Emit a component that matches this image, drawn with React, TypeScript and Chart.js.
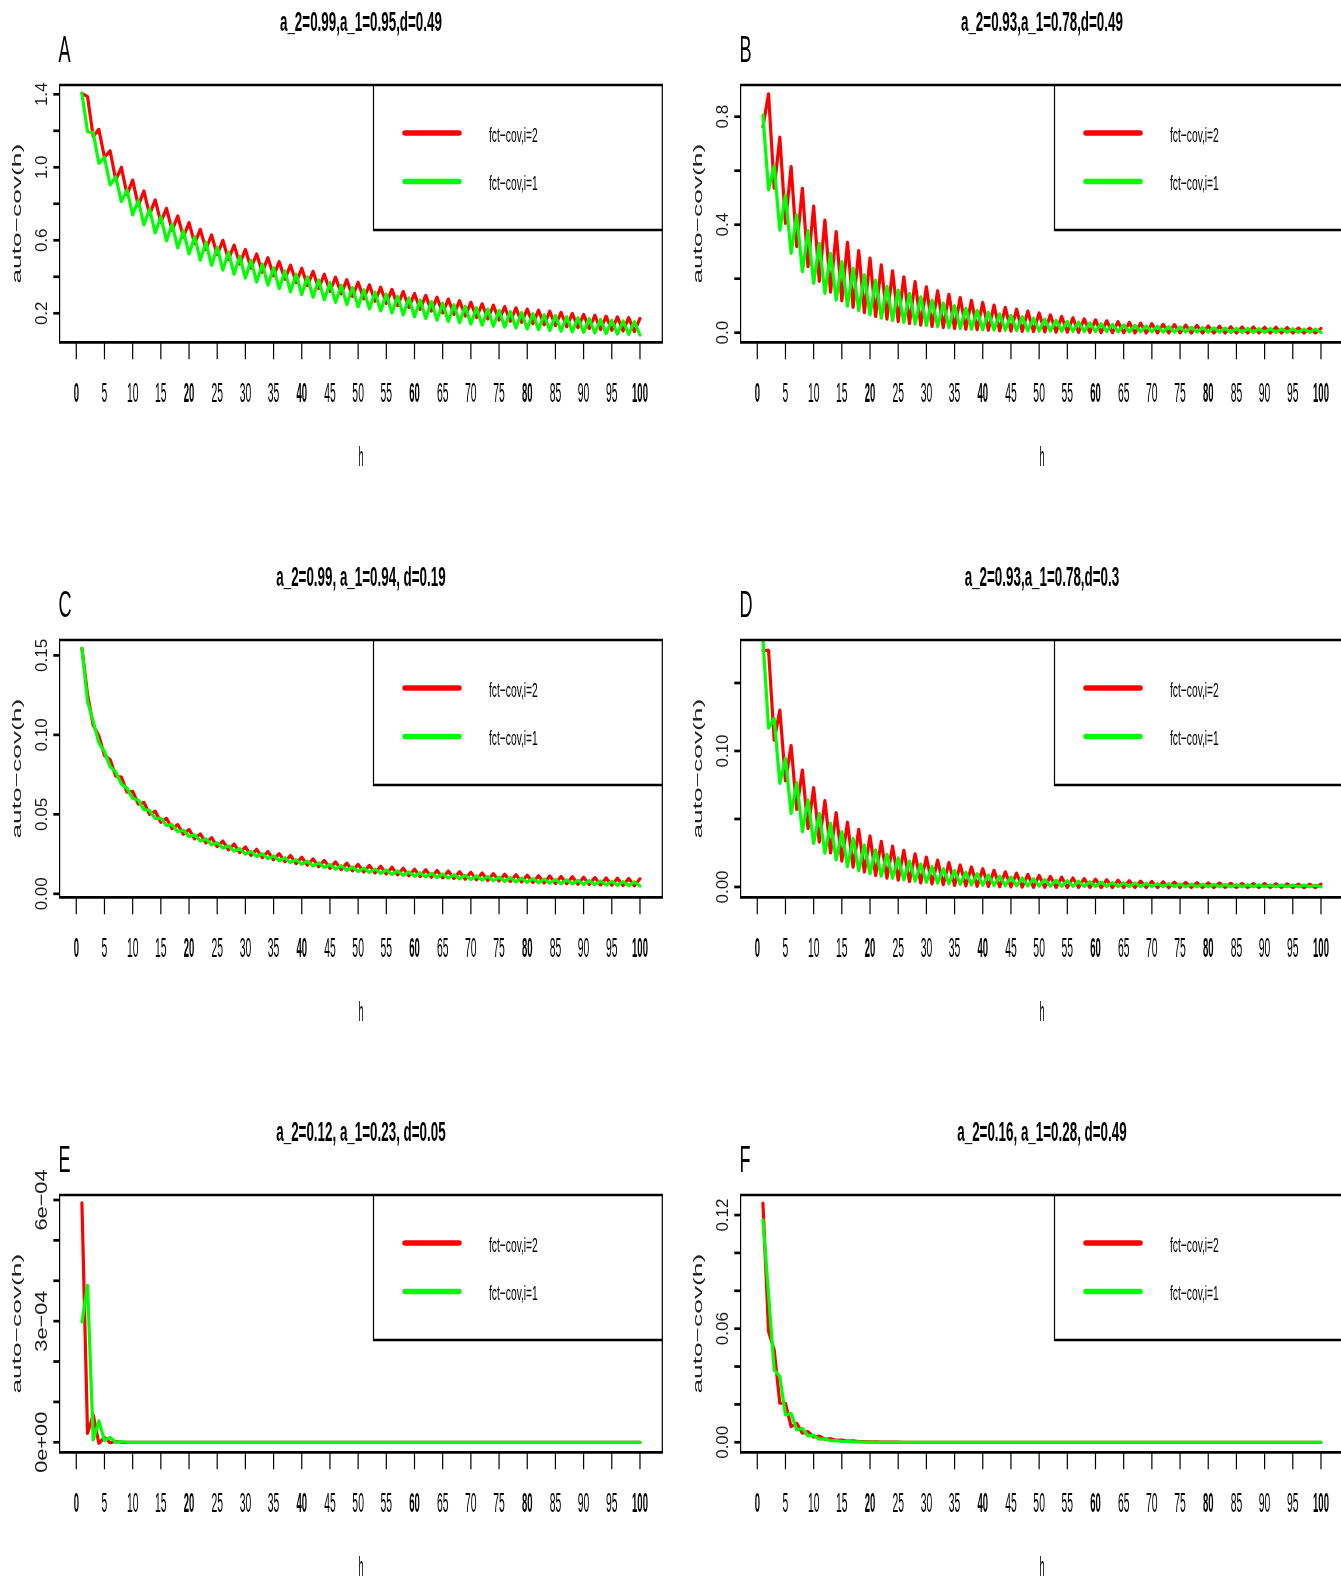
import React, { useEffect, useRef } from "react";
import { Chart, registerables } from "chart.js";

Chart.register(...registerables);

// ---------------- data ----------------
const lags = [
  1, 2, 3, 4, 5, 6, 7, 8, 9, 10, 11, 12, 13, 14, 15, 16, 17, 18, 19, 20,
  21, 22, 23, 24, 25, 26, 27, 28, 29, 30, 31, 32, 33, 34, 35, 36, 37, 38, 39, 40,
  41, 42, 43, 44, 45, 46, 47, 48, 49, 50, 51, 52, 53, 54, 55, 56, 57, 58, 59, 60,
  61, 62, 63, 64, 65, 66, 67, 68, 69, 70, 71, 72, 73, 74, 75, 76, 77, 78, 79, 80,
  81, 82, 83, 84, 85, 86, 87, 88, 89, 90, 91, 92, 93, 94, 95, 96, 97, 98, 99, 100,
];

const xTickValues = [0, 5, 10, 15, 20, 25, 30, 35, 40, 45, 50, 55, 60, 65, 70, 75, 80, 85, 90, 95, 100];
const xTickLabels = ["0", "5", "10", "15", "20", "25", "30", "35", "40", "45", "50", "55", "60", "65", "70", "75", "80", "85", "90", "95", "100"];

const seriesNames = ["fct\u2212cov,i=2", "fct\u2212cov,i=1"];
const panelTitles = [
  "a_2=0.99,a_1=0.95,d=0.49",
  "a_2=0.93,a_1=0.78,d=0.49",
  "a_2=0.99, a_1=0.94, d=0.19",
  "a_2=0.93,a_1=0.78,d=0.3",
  "a_2=0.12, a_1=0.23, d=0.05",
  "a_2=0.16, a_1=0.28, d=0.49",
];
const panelLetters = ["A", "B", "C", "D", "E", "F"];

const redA = [
  1.405, 1.387, 1.168, 1.208, 1.055, 1.091, 0.930, 1.000, 0.850, 0.930,
  0.790, 0.870, 0.741, 0.822, 0.698, 0.775, 0.654, 0.733, 0.617, 0.697,
  0.582, 0.660, 0.550, 0.629, 0.521, 0.600, 0.494, 0.574, 0.470, 0.550,
  0.447, 0.525, 0.425, 0.505, 0.405, 0.483, 0.386, 0.464, 0.368, 0.447,
  0.352, 0.430, 0.336, 0.414, 0.320, 0.398, 0.306, 0.384, 0.292, 0.370,
  0.279, 0.356, 0.266, 0.343, 0.254, 0.331, 0.242, 0.319, 0.232, 0.308,
  0.221, 0.298, 0.212, 0.288, 0.202, 0.278, 0.194, 0.269, 0.185, 0.260,
  0.177, 0.252, 0.169, 0.244, 0.162, 0.237, 0.156, 0.230, 0.150, 0.223,
  0.143, 0.217, 0.137, 0.211, 0.132, 0.205, 0.126, 0.199, 0.121, 0.194,
  0.116, 0.189, 0.111, 0.184, 0.107, 0.180, 0.103, 0.176, 0.099, 0.172,
];
const greenA = [
  1.405, 1.195, 1.190, 1.022, 1.055, 0.903, 0.948, 0.812, 0.876, 0.739,
  0.818, 0.684, 0.771, 0.640, 0.730, 0.597, 0.688, 0.558, 0.653, 0.525,
  0.620, 0.491, 0.590, 0.463, 0.562, 0.437, 0.536, 0.414, 0.513, 0.393,
  0.491, 0.371, 0.470, 0.354, 0.450, 0.335, 0.432, 0.318, 0.414, 0.303,
  0.399, 0.288, 0.383, 0.274, 0.368, 0.260, 0.354, 0.248, 0.341, 0.236,
  0.329, 0.224, 0.316, 0.213, 0.305, 0.202, 0.293, 0.191, 0.284, 0.181,
  0.273, 0.172, 0.264, 0.163, 0.255, 0.155, 0.247, 0.148, 0.238, 0.141,
  0.231, 0.135, 0.223, 0.129, 0.216, 0.124, 0.210, 0.119, 0.204, 0.114,
  0.198, 0.110, 0.192, 0.106, 0.187, 0.102, 0.181, 0.098, 0.176, 0.095,
  0.171, 0.092, 0.166, 0.089, 0.162, 0.086, 0.158, 0.084, 0.154, 0.081,
];

const redB = [
  0.763, 0.885, 0.535, 0.724, 0.405, 0.615, 0.319, 0.535, 0.245, 0.469,
  0.190, 0.417, 0.150, 0.374, 0.118, 0.335, 0.094, 0.304, 0.074, 0.276,
  0.060, 0.251, 0.050, 0.229, 0.041, 0.207, 0.034, 0.189, 0.028, 0.170,
  0.023, 0.155, 0.019, 0.142, 0.016, 0.130, 0.013, 0.120, 0.011, 0.112,
  0.009, 0.102, 0.007, 0.094, 0.006, 0.087, 0.005, 0.080, 0.004, 0.073,
  0.003, 0.066, 0.002, 0.060, 0.002, 0.055, 0.001, 0.051, 0.001, 0.047,
  0.000, 0.044, 0.000, 0.041, 0.000, 0.038, -0.001, 0.035, -0.001, 0.033,
  -0.001, 0.031, -0.001, 0.030, -0.001, 0.028, -0.001, 0.027, -0.001, 0.025,
  -0.001, 0.024, -0.001, 0.022, -0.001, 0.021, -0.001, 0.021, -0.001, 0.020,
  -0.001, 0.020, -0.001, 0.019, -0.001, 0.018, -0.001, 0.017, -0.001, 0.016,
];
const greenB = [
  0.806, 0.529, 0.617, 0.380, 0.510, 0.294, 0.436, 0.226, 0.378, 0.183,
  0.331, 0.146, 0.294, 0.121, 0.263, 0.098, 0.239, 0.082, 0.214, 0.066,
  0.195, 0.054, 0.172, 0.045, 0.158, 0.038, 0.146, 0.032, 0.133, 0.027,
  0.121, 0.022, 0.110, 0.019, 0.100, 0.016, 0.091, 0.013, 0.083, 0.011,
  0.076, 0.010, 0.070, 0.009, 0.064, 0.008, 0.059, 0.007, 0.054, 0.006,
  0.050, 0.006, 0.046, 0.005, 0.042, 0.005, 0.039, 0.004, 0.036, 0.004,
  0.033, 0.004, 0.031, 0.003, 0.029, 0.003, 0.027, 0.003, 0.025, 0.003,
  0.024, 0.002, 0.022, 0.002, 0.021, 0.002, 0.020, 0.002, 0.019, 0.002,
  0.018, 0.002, 0.017, 0.001, 0.016, 0.001, 0.016, 0.001, 0.015, 0.001,
  0.015, 0.001, 0.014, 0.001, 0.014, 0.001, 0.013, 0.001, 0.013, 0.001,
];

const redC = [
  0.1545, 0.1255, 0.1060, 0.0995, 0.0870, 0.0845, 0.0740, 0.0735, 0.0640, 0.0645,
  0.0565, 0.0575, 0.0500, 0.0520, 0.0450, 0.0475, 0.0410, 0.0435, 0.0375, 0.0405,
  0.0346, 0.0377, 0.0320, 0.0353, 0.0297, 0.0332, 0.0277, 0.0313, 0.0259, 0.0295,
  0.0242, 0.0280, 0.0228, 0.0266, 0.0214, 0.0253, 0.0202, 0.0241, 0.0190, 0.0230,
  0.0180, 0.0220, 0.0170, 0.0210, 0.0160, 0.0201, 0.0152, 0.0193, 0.0144, 0.0185,
  0.0137, 0.0179, 0.0131, 0.0173, 0.0125, 0.0167, 0.0119, 0.0161, 0.0113, 0.0155,
  0.0108, 0.0151, 0.0104, 0.0147, 0.0100, 0.0143, 0.0096, 0.0139, 0.0092, 0.0135,
  0.0088, 0.0131, 0.0084, 0.0127, 0.0080, 0.0123, 0.0077, 0.0120, 0.0074, 0.0117,
  0.0071, 0.0114, 0.0068, 0.0112, 0.0065, 0.0109, 0.0063, 0.0107, 0.0060, 0.0104,
  0.0058, 0.0102, 0.0056, 0.0100, 0.0054, 0.0098, 0.0052, 0.0096, 0.0050, 0.0094,
];
const greenC = [
  0.1545, 0.1210, 0.1085, 0.0950, 0.0895, 0.0800, 0.0765, 0.0690, 0.0665, 0.0600,
  0.0590, 0.0530, 0.0525, 0.0475, 0.0475, 0.0430, 0.0435, 0.0390, 0.0400, 0.0360,
  0.0371, 0.0332, 0.0345, 0.0308, 0.0322, 0.0287, 0.0302, 0.0268, 0.0284, 0.0250,
  0.0267, 0.0235, 0.0253, 0.0221, 0.0239, 0.0208, 0.0227, 0.0196, 0.0215, 0.0185,
  0.0205, 0.0175, 0.0195, 0.0165, 0.0185, 0.0156, 0.0177, 0.0148, 0.0169, 0.0140,
  0.0162, 0.0134, 0.0156, 0.0128, 0.0150, 0.0122, 0.0144, 0.0116, 0.0138, 0.0110,
  0.0133, 0.0106, 0.0129, 0.0102, 0.0125, 0.0098, 0.0121, 0.0094, 0.0117, 0.0090,
  0.0113, 0.0086, 0.0109, 0.0082, 0.0105, 0.0078, 0.0102, 0.0075, 0.0099, 0.0072,
  0.0096, 0.0069, 0.0093, 0.0067, 0.0090, 0.0064, 0.0088, 0.0062, 0.0085, 0.0059,
  0.0083, 0.0057, 0.0081, 0.0055, 0.0079, 0.0053, 0.0077, 0.0051, 0.0075, 0.0049,
];

const redD = [
  0.174, 0.174, 0.108, 0.130, 0.078, 0.104, 0.057, 0.086, 0.043, 0.073,
  0.033, 0.0635, 0.025, 0.0546, 0.019, 0.0476, 0.0145, 0.0424, 0.011, 0.0375,
  0.0085, 0.0335, 0.0065, 0.030, 0.005, 0.027, 0.004, 0.0243, 0.003, 0.0219,
  0.0023, 0.0198, 0.0017, 0.0179, 0.0012, 0.0162, 0.0008, 0.0147, 0.0005, 0.0134,
  0.0003, 0.0122, 0.0001, 0.0111, 0.0000, 0.0101, -0.0001, 0.0093, -0.0002, 0.0085,
  -0.0002, 0.0078, -0.0003, 0.0072, -0.0003, 0.0066, -0.0003, 0.0061, -0.0004, 0.0057,
  -0.0004, 0.0053, -0.0004, 0.0049, -0.0004, 0.0046, -0.0004, 0.0043, -0.0004, 0.0040,
  -0.0004, 0.0038, -0.0004, 0.0036, -0.0004, 0.0034, -0.0004, 0.0032, -0.0004, 0.0030,
  -0.0004, 0.0029, -0.0004, 0.0027, -0.0004, 0.0026, -0.0004, 0.0025, -0.0004, 0.0024,
  -0.0004, 0.0023, -0.0004, 0.0022, -0.0004, 0.0021, -0.0004, 0.0020, -0.0004, 0.0020,
];
const greenD = [
  0.182, 0.1167, 0.124, 0.0762, 0.0946, 0.054, 0.0767, 0.0407, 0.064, 0.032,
  0.054, 0.0248, 0.0468, 0.0199, 0.0407, 0.0149, 0.0358, 0.0120, 0.0309, 0.0098,
  0.0272, 0.0080, 0.0241, 0.0065, 0.0214, 0.0053, 0.0190, 0.0043, 0.0169, 0.0035,
  0.0151, 0.0028, 0.0135, 0.0023, 0.0121, 0.0019, 0.0109, 0.0016, 0.0098, 0.0013,
  0.0088, 0.0011, 0.0080, 0.0009, 0.0072, 0.0008, 0.0066, 0.0007, 0.0060, 0.0006,
  0.0055, 0.0005, 0.0050, 0.0005, 0.0046, 0.0004, 0.0042, 0.0004, 0.0039, 0.0003,
  0.0036, 0.0003, 0.0033, 0.0003, 0.0031, 0.0002, 0.0029, 0.0002, 0.0027, 0.0002,
  0.0025, 0.0002, 0.0024, 0.0002, 0.0022, 0.0001, 0.0021, 0.0001, 0.0020, 0.0001,
  0.0019, 0.0001, 0.0018, 0.0001, 0.0017, 0.0001, 0.0016, 0.0001, 0.0016, 0.0001,
  0.0015, 0.0001, 0.0015, 0.0001, 0.0014, 0.0001, 0.0014, 0.0001, 0.0013, 0.0001,
];

const redE = [
  5.93e-4, 2.2e-5, 6.8e-5, -2.5e-6, 1.2e-5, -1e-6, 2e-6, 0, 0, 0,
  0, 0, 0, 0, 0, 0, 0, 0, 0, 0,
  0, 0, 0, 0, 0, 0, 0, 0, 0, 0,
  0, 0, 0, 0, 0, 0, 0, 0, 0, 0,
  0, 0, 0, 0, 0, 0, 0, 0, 0, 0,
  0, 0, 0, 0, 0, 0, 0, 0, 0, 0,
  0, 0, 0, 0, 0, 0, 0, 0, 0, 0,
  0, 0, 0, 0, 0, 0, 0, 0, 0, 0,
  0, 0, 0, 0, 0, 0, 0, 0, 0, 0,
  0, 0, 0, 0, 0, 0, 0, 0, 0, 0,
];
const greenE = [
  2.98e-4, 3.89e-4, 6e-6, 5.3e-5, 4e-6, 1.2e-5, 0, 2e-6, 0, 0,
  0, 0, 0, 0, 0, 0, 0, 0, 0, 0,
  0, 0, 0, 0, 0, 0, 0, 0, 0, 0,
  0, 0, 0, 0, 0, 0, 0, 0, 0, 0,
  0, 0, 0, 0, 0, 0, 0, 0, 0, 0,
  0, 0, 0, 0, 0, 0, 0, 0, 0, 0,
  0, 0, 0, 0, 0, 0, 0, 0, 0, 0,
  0, 0, 0, 0, 0, 0, 0, 0, 0, 0,
  0, 0, 0, 0, 0, 0, 0, 0, 0, 0,
  0, 0, 0, 0, 0, 0, 0, 0, 0, 0,
];

const redF = [
  0.1263, 0.0585, 0.0488, 0.0206, 0.0206, 0.0082, 0.0100, 0.0048, 0.0056, 0.0028,
  0.0032, 0.0016, 0.0019, 0.0010, 0.0011, 0.0006, 0.0007, 0.0004, 0.0004, 0.0002,
  0.0002, 0.0001, 0.0001, 0.0001, 0.0001, 0, 0, 0, 0, 0,
  0, 0, 0, 0, 0, 0, 0, 0, 0, 0,
  0, 0, 0, 0, 0, 0, 0, 0, 0, 0,
  0, 0, 0, 0, 0, 0, 0, 0, 0, 0,
  0, 0, 0, 0, 0, 0, 0, 0, 0, 0,
  0, 0, 0, 0, 0, 0, 0, 0, 0, 0,
  0, 0, 0, 0, 0, 0, 0, 0, 0, 0,
  0, 0, 0, 0, 0, 0, 0, 0, 0, 0,
];
const greenF = [
  0.1175, 0.0780, 0.0382, 0.0347, 0.0144, 0.0153, 0.0065, 0.0074, 0.0033, 0.0036,
  0.0016, 0.0018, 0.0008, 0.0009, 0.0004, 0.0005, 0.0002, 0.0002, 0.0001, 0.0001,
  0, 0, 0, 0, 0, 0, 0, 0, 0, 0,
  0, 0, 0, 0, 0, 0, 0, 0, 0, 0,
  0, 0, 0, 0, 0, 0, 0, 0, 0, 0,
  0, 0, 0, 0, 0, 0, 0, 0, 0, 0,
  0, 0, 0, 0, 0, 0, 0, 0, 0, 0,
  0, 0, 0, 0, 0, 0, 0, 0, 0, 0,
  0, 0, 0, 0, 0, 0, 0, 0, 0, 0,
  0, 0, 0, 0, 0, 0, 0, 0, 0, 0,
];

const yTicksA = [0.2, 0.4, 0.6, 0.8, 1.0, 1.2, 1.4];
const yLabelsA = ["0.2", "", "0.6", "", "1.0", "", "1.4"];
const yTicksB = [0, 0.2, 0.4, 0.6, 0.8];
const yLabelsB = ["0.0", "", "0.4", "", "0.8"];
const yTicksC = [0, 0.05, 0.1, 0.15];
const yLabelsC = ["0.00", "0.05", "0.10", "0.15"];
const yTicksD = [0, 0.05, 0.1, 0.15];
const yLabelsD = ["0.00", "", "0.10", ""];
const yTicksE = [0, 1e-4, 2e-4, 3e-4, 4e-4, 5e-4, 6e-4];
const yLabelsE = ["0e+00", "", "", "3e\u221204", "", "", "6e\u221204"];
const yTicksF = [0, 0.02, 0.04, 0.06, 0.08, 0.1, 0.12];
const yLabelsF = ["0.00", "", "", "0.06", "", "", "0.12"];

// y axis ranges (as drawn)
const yRangeA = [0.041, 1.451];
const yRangeB = [-0.0356, 0.9174];
const yRangeC = [-0.0022, 0.1597];
const yRangeD = [-0.0076, 0.1816];
const yRangeE = [-2.48e-5, 6.124e-4];
const yRangeF = [-0.0053, 0.1306];
const xRange = [-2.96, 103.96];

// ---------------- layout ----------------
const W = 681;
const H = 555;
const BOX = { left: 59.6, right: 662.3, top: 85, bottom: 342.3 };
const SANS = '"Liberation Sans", Arial, Helvetica, sans-serif';

const panels = [
  { red: redA, green: greenA, yRange: yRangeA, yTicks: yTicksA, yLabels: yLabelsA, labelStretch: 1, col: 0, row: 0 },
  { red: redB, green: greenB, yRange: yRangeB, yTicks: yTicksB, yLabels: yLabelsB, labelStretch: 1, col: 1, row: 0 },
  { red: redC, green: greenC, yRange: yRangeC, yTicks: yTicksC, yLabels: yLabelsC, labelStretch: 1, col: 0, row: 1 },
  { red: redD, green: greenD, yRange: yRangeD, yTicks: yTicksD, yLabels: yLabelsD, labelStretch: 1, col: 1, row: 1 },
  { red: redE, green: greenE, yRange: yRangeE, yTicks: yTicksE, yLabels: yLabelsE, labelStretch: 1.28, col: 0, row: 2 },
  { red: redF, green: greenF, yRange: yRangeF, yTicks: yTicksF, yLabels: yLabelsF, labelStretch: 1, col: 1, row: 2 },
];

function drawText(
  ctx: CanvasRenderingContext2D,
  s: string,
  x: number,
  y: number,
  font: string,
  sx: number,
  align: CanvasTextAlign,
  rot = 0,
  color = "#000"
) {
  ctx.save();
  ctx.translate(x, y);
  if (rot) ctx.rotate(rot);
  ctx.scale(sx, 1);
  ctx.font = font;
  ctx.fillStyle = color;
  ctx.textAlign = align;
  ctx.textBaseline = "alphabetic";
  ctx.fillText(s, 0, 0);
  ctx.restore();
}

function makePlugin(idx: number) {
  const p = panels[idx];
  return {
    id: "rstyle" + idx,
    afterDraw(chart: any) {
      const ctx: CanvasRenderingContext2D = chart.ctx;
      const { left, right, top, bottom } = chart.chartArea;
      const xs = chart.scales.x;
      const ys = chart.scales.y;
      const cx = (left + right) / 2;
      ctx.save();

      // legend box
      const lgL = 373.5;
      const lgB = 230;
      ctx.fillStyle = "#fff";
      ctx.fillRect(lgL, top, right - lgL, lgB - top);
      ctx.strokeStyle = "#000";
      ctx.lineCap = "butt";
      ctx.lineWidth = 1.2;
      ctx.beginPath();
      ctx.moveTo(lgL, top);
      ctx.lineTo(lgL, lgB);
      ctx.stroke();
      ctx.lineWidth = 2.7;
      ctx.beginPath();
      ctx.moveTo(lgL - 0.6, lgB);
      ctx.lineTo(right, lgB);
      ctx.stroke();
      const legendColors = ["#ff0000", "#00ff00"];
      const legendY = [133, 181.5];
      for (let i = 0; i < 2; i++) {
        ctx.strokeStyle = legendColors[i];
        ctx.lineWidth = 5.5;
        ctx.lineCap = "round";
        ctx.beginPath();
        ctx.moveTo(405, legendY[i]);
        ctx.lineTo(459, legendY[i]);
        ctx.stroke();
        drawText(ctx, seriesNames[i], 489, legendY[i] + 8.5, `20.5px ${SANS}`, 0.5, "left");
      }

      // frame
      ctx.strokeStyle = "#000";
      ctx.lineCap = "butt";
      ctx.lineWidth = 1.2;
      ctx.beginPath();
      ctx.moveTo(left, top);
      ctx.lineTo(left, bottom);
      ctx.moveTo(right, top);
      ctx.lineTo(right, bottom);
      ctx.stroke();
      ctx.lineWidth = 2.7;
      ctx.beginPath();
      ctx.moveTo(left - 0.6, top);
      ctx.lineTo(right + 0.6, top);
      ctx.moveTo(left - 0.6, bottom);
      ctx.lineTo(right + 0.6, bottom);
      ctx.stroke();

      // x axis ticks and labels
      ctx.lineWidth = 1.2;
      for (let i = 0; i < xTickValues.length; i++) {
        const x = xs.getPixelForValue(xTickValues[i]);
        ctx.beginPath();
        ctx.moveTo(x, bottom);
        ctx.lineTo(x, bottom + 17);
        ctx.stroke();
        const bold = xTickValues[i] % 20 === 0;
        drawText(ctx, xTickLabels[i], x, bottom + 59.4, `${bold ? "bold " : ""}28px ${SANS}`, bold ? 0.34 : 0.37, "center");
      }

      // y axis ticks and labels
      ctx.lineWidth = 2.7;
      for (let i = 0; i < p.yTicks.length; i++) {
        const y = ys.getPixelForValue(p.yTicks[i]);
        ctx.beginPath();
        ctx.moveTo(left - 6.3, y);
        ctx.lineTo(left, y);
        ctx.stroke();
        if (p.yLabels[i]) {
          drawText(ctx, p.yLabels[i], left - 12.6, y, `17px ${SANS}`, p.labelStretch, "center", -Math.PI / 2, "#1a1a1a");
        }
      }

      // axis titles
      drawText(ctx, "h", cx, bottom + 123.5, `26.8px ${SANS}`, 0.34, "center");
      drawText(ctx, "auto\u2212cov(h)", left - 38.9, (top + bottom) / 2, `13.5px ${SANS}`, 1.95, "center", -Math.PI / 2, "#222");

      // main title and panel letter
      drawText(ctx, panelTitles[idx], cx, top - 54.5, `bold 27.5px ${SANS}`, 0.487, "center");
      drawText(ctx, panelLetters[idx], left - 1.1, top - 23, `37.7px ${SANS}`, 0.48, "left");

      ctx.restore();
    },
  };
}

function Panel({ idx }: { idx: number }) {
  const ref = useRef<HTMLCanvasElement | null>(null);
  const p = panels[idx];
  useEffect(() => {
    const canvas = ref.current;
    if (!canvas) return;
    const toPoints = (arr: number[]) => arr.map((v, i) => ({ x: lags[i], y: v }));
    const lineStyle = {
      borderWidth: 3.2,
      pointRadius: 0,
      tension: 0,
      borderJoinStyle: "round",
      borderCapStyle: "round",
      clip: 0,
    };
    const chart = new Chart(canvas, {
      type: "line",
      data: {
        // Chart.js paints the first dataset last, so green (drawn second in R) goes first
        datasets: [
          { label: seriesNames[1], data: toPoints(p.green), borderColor: "#00ff00", ...lineStyle },
          { label: seriesNames[0], data: toPoints(p.red), borderColor: "#ff0000", ...lineStyle },
        ],
      },
      options: {
        responsive: false,
        animation: false,
        devicePixelRatio: 1,
        layout: {
          padding: { left: BOX.left, top: BOX.top, right: W - BOX.right, bottom: H - BOX.bottom },
        },
        scales: {
          x: { type: "linear", min: xRange[0], max: xRange[1], display: false },
          y: { type: "linear", min: p.yRange[0], max: p.yRange[1], display: false },
        },
        plugins: {
          legend: { display: false },
          title: { display: false },
          tooltip: { enabled: false },
        },
        events: [],
      },
      plugins: [makePlugin(idx)],
    } as any);
    return () => chart.destroy();
  }, [idx]);
  return (
    <canvas
      ref={ref}
      width={W}
      height={H}
      style={{ position: "absolute", left: p.col * 681, top: p.row * 555, width: W, height: H }}
    />
  );
}

export default function App() {
  return (
    <div
      style={{
        position: "absolute",
        left: 0,
        top: 0,
        width: 1341,
        height: 1581,
        overflow: "hidden",
        background: "#fff",
      }}
    >
      {panels.map((_, i) => (
        <Panel key={i} idx={i} />
      ))}
    </div>
  );
}
